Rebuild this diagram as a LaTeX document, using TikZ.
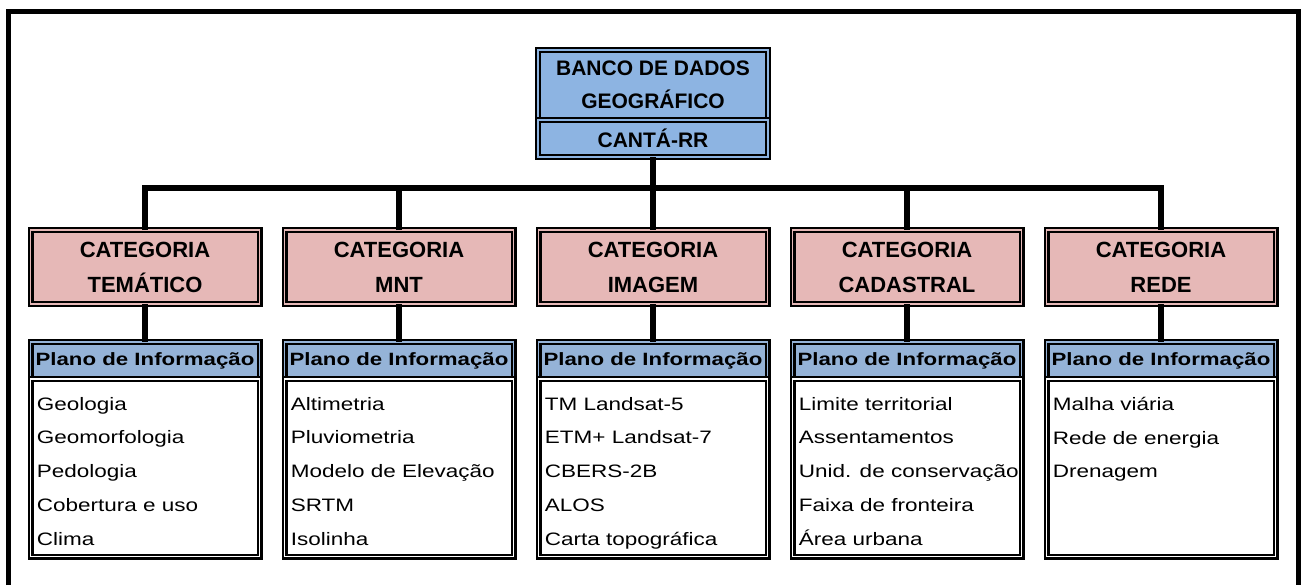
\documentclass[tikz,border=0pt]{standalone}
\usepackage{fontspec}
\setmainfont{Liberation Sans}
\newfontfamily\widefont[FakeStretch=1.25]{Liberation Sans}
\usetikzlibrary{positioning}

\definecolor{dbblue}{RGB}{141,180,226}
\definecolor{catpink}{RGB}{230,184,183}
\definecolor{piblue}{RGB}{149,179,215}

\tikzset{
  dblbox/.style={draw, line width=1.1pt, double distance=0.8pt, inner sep=0pt, outer sep=0pt},
  dbbox/.style={dblbox, fill=dbblue, double=dbblue, minimum width=115pt,
                font=\bfseries\fontsize{10.5}{16.5}\selectfont, align=center},
  catbox/.style={dblbox, fill=catpink, double=catpink, minimum width=114.5pt, minimum height=37pt,
                 font=\bfseries\fontsize{11}{17.5}\selectfont, align=center},
  pihead/.style={dblbox, fill=piblue, double=piblue, minimum width=114.5pt, minimum height=18.5pt,
                 font=\widefont\bfseries\fontsize{8.9}{10}\selectfont},
  pibody/.style={dblbox, fill=white, double=white, minimum width=114.5pt, minimum height=88.75pt},
  pitext/.style={inner sep=0pt, anchor=north west, align=left,
                 font=\widefont\fontsize{9}{16.9}\selectfont},
  link/.style={line width=3pt},
  frame/.style={line width=2.5pt}
}

\begin{document}
\begin{tikzpicture}[
                    x=0.5pt, y=-0.5pt,
                    node distance=127pt
                    ]
  \useasboundingbox (0,0) rectangle (1302,585);
  \draw[frame] (8.5,585) -- (8.5,11.5) -- (1298,11.5) -- (1298,585);

  % banco de dados
  \node[dbbox, minimum height=35pt] (db) at (653,85) {BANCO DE DADOS\\GEOGRÁFICO};
  \node[dbbox, minimum height=18.5pt, below=0pt of db] (dbsub) {CANTÁ-RR};

  % categorias
  \node[catbox] (cat1) at (145,267) {CATEGORIA\\TEMÁTICO};
  \node[catbox, right of=cat1] (cat2) {CATEGORIA\\MNT};
  \node[catbox, right of=cat2] (cat3) {CATEGORIA\\IMAGEM};
  \node[catbox, right of=cat3] (cat4) {CATEGORIA\\CADASTRAL};
  \node[catbox, right of=cat4] (cat5) {CATEGORIA\\REDE};

  % planos de informacao
  \node[pihead, node distance=46.75pt, below of=cat1] (pih1) {Plano de Informação};
  \node[pihead, node distance=46.75pt, below of=cat2] (pih2) {Plano de Informação};
  \node[pihead, node distance=46.75pt, below of=cat3] (pih3) {Plano de Informação};
  \node[pihead, node distance=46.75pt, below of=cat4] (pih4) {Plano de Informação};
  \node[pihead, node distance=46.75pt, below of=cat5] (pih5) {Plano de Informação};
  \node[pibody, below=0pt of pih1] (pib1) {};
  \node[pibody, below=0pt of pih2] (pib2) {};
  \node[pibody, below=0pt of pih3] (pib3) {};
  \node[pibody, below=0pt of pih4] (pib4) {};
  \node[pibody, below=0pt of pih5] (pib5) {};
  \node[pitext] (pit1) at ([xshift=3pt, yshift=-8.8pt]pib1.north west)
    {Geologia\\Geomorfologia\\Pedologia\\Cobertura e uso\\Clima};
  \node[pitext] (pit2) at ([xshift=3pt, yshift=-8.8pt]pib2.north west)
    {Altimetria\\Pluviometria\\Modelo de Elevação\\SRTM\\Isolinha};
  \node[pitext] (pit3) at ([xshift=3pt, yshift=-8.8pt]pib3.north west)
    {TM Landsat-5\\ETM+ Landsat-7\\CBERS-2B\\ALOS\\Carta topográfica};
  \node[pitext] (pit4) at ([xshift=3pt, yshift=-8.8pt]pib4.north west)
    {Limite territorial\\Assentamentos\\Unid. de conservação\\Faixa de fronteira\\Área urbana};
  \node[pitext] (pit5) at ([xshift=3pt, yshift=-8.8pt]pib5.north west)
    {Malha viária\\Rede de energia\\Drenagem};

  % ligacoes
  \coordinate (bus) at (653,188);
  \draw[link] (cat1.north) -- (cat1.north |- bus) -- (cat5.north |- bus) -- (cat5.north);
  \draw[link] (dbsub.south) -- (cat3.north);
  \draw[link] (cat2.north) -- (cat2.north |- bus);
  \draw[link] (cat4.north) -- (cat4.north |- bus);
  \draw[link] (cat1.south) -- (pih1.north);
  \draw[link] (cat2.south) -- (pih2.north);
  \draw[link] (cat3.south) -- (pih3.north);
  \draw[link] (cat4.south) -- (pih4.north);
  \draw[link] (cat5.south) -- (pih5.north);
\end{tikzpicture}
\end{document}
